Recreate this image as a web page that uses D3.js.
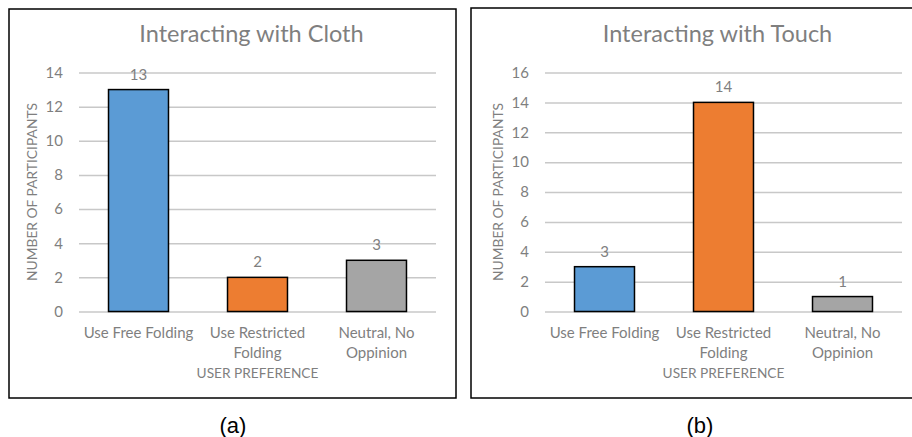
<!DOCTYPE html>
<html><head><meta charset="utf-8">
<script src="https://cdn.jsdelivr.net/npm/d3@7"></script>
<style>body{margin:0;background:#fff}svg{display:block}</style>
</head><body>
<svg id="c" width="912" height="437"></svg>
<script>
const categories = [["Use Free Folding"], ["Use Restricted", "Folding"], ["Neutral, No", "Oppinion"]];
const clothValues = [13, 2, 3];
const touchValues = [3, 14, 1];
const clothTicks = [0, 2, 4, 6, 8, 10, 12, 14];
const touchTicks = [0, 2, 4, 6, 8, 10, 12, 14, 16];
const titles = ["Interacting with Cloth", "Interacting with Touch"];
const captions = ["(a)", "(b)"];
const barColors = ["#5b9bd5", "#ed7d31", "#a5a5a5"];

const svg = d3.select("#c");
const font = "Lato, 'Open Sans', sans-serif";
const textGray = "#7f7f7f";

const panels = [
  {box:[9,9,447,389], plot:[79,436], values:clothValues, ticks:clothTicks, max:14, title:titles[0], caption:captions[0], capX:233},
  {box:[471,8,460,390], plot:[545,902], values:touchValues, ticks:touchTicks, max:16, title:titles[1], caption:captions[1], capX:700}
];

panels.forEach(p => {
  const g = svg.append("g");
  g.append("rect").attr("x", p.box[0]).attr("y", p.box[1]).attr("width", p.box[2]).attr("height", p.box[3])
    .attr("fill", "#fff").attr("stroke", "#000").attr("stroke-width", 1.5);
  const x = d3.scaleBand().domain(d3.range(categories.length)).range(p.plot).paddingInner(0.496).paddingOuter(0.248);
  const y = d3.scaleLinear().domain([0, p.max]).range([311.5, 72.5]);
  const yAxis = d3.axisLeft(y).tickValues(p.ticks).tickSize(-(p.plot[1]-p.plot[0])).tickPadding(16);
  const ya = g.append("g").attr("transform", `translate(${p.plot[0]},0)`).call(yAxis);
  ya.select(".domain").remove();
  ya.selectAll(".tick line").attr("stroke", "#c8c8c8").attr("stroke-width", 1.5);
  ya.selectAll(".tick text").attr("fill", textGray).attr("font-family", font).attr("font-size", 15);
  g.selectAll("rect.bar").data(p.values).join("rect").attr("class", "bar")
    .attr("x", (d,i) => x(i)).attr("width", x.bandwidth())
    .attr("y", d => y(d)).attr("height", d => y(0) - y(d))
    .attr("fill", (d,i) => barColors[i]).attr("stroke", "#000").attr("stroke-width", 1.5);
  g.selectAll("text.lab").data(p.values).join("text").attr("class", "lab")
    .attr("x", (d,i) => x(i) + x.bandwidth()/2).attr("y", d => y(d) - 10)
    .attr("text-anchor", "middle").attr("fill", textGray).attr("font-family", font).attr("font-size", 15)
    .text(d => d);
  categories.forEach((lines, i) => {
    lines.forEach((t, k) => {
      g.append("text").attr("x", x(i) + x.bandwidth()/2).attr("y", 338 + k*20)
        .attr("text-anchor", "middle").attr("fill", textGray).attr("font-family", font).attr("font-size", 15).text(t);
    });
  });
  const cx = (p.plot[0] + p.plot[1]) / 2;
  g.append("text").attr("x", cx).attr("y", 378).attr("text-anchor", "middle")
    .attr("fill", textGray).attr("font-family", font).attr("font-size", 13.7).text("USER PREFERENCE");
  g.append("text").attr("transform", `translate(${p.plot[0]-42},192) rotate(-90)`)
    .attr("text-anchor", "middle").attr("fill", textGray).attr("font-family", font).attr("font-size", 13.8)
    .text("NUMBER OF PARTICIPANTS");
  g.append("text").attr("x", cx - 6).attr("y", 42).attr("text-anchor", "middle")
    .attr("fill", textGray).attr("font-family", font).attr("font-size", 23.5).text(p.title);
  svg.append("text").attr("x", p.capX).attr("y", 433).attr("text-anchor", "middle")
    .attr("fill", "#000").attr("font-family", "'Liberation Sans', Arial, sans-serif").attr("font-size", 22).text(p.caption);
});
</script>
</body></html>
